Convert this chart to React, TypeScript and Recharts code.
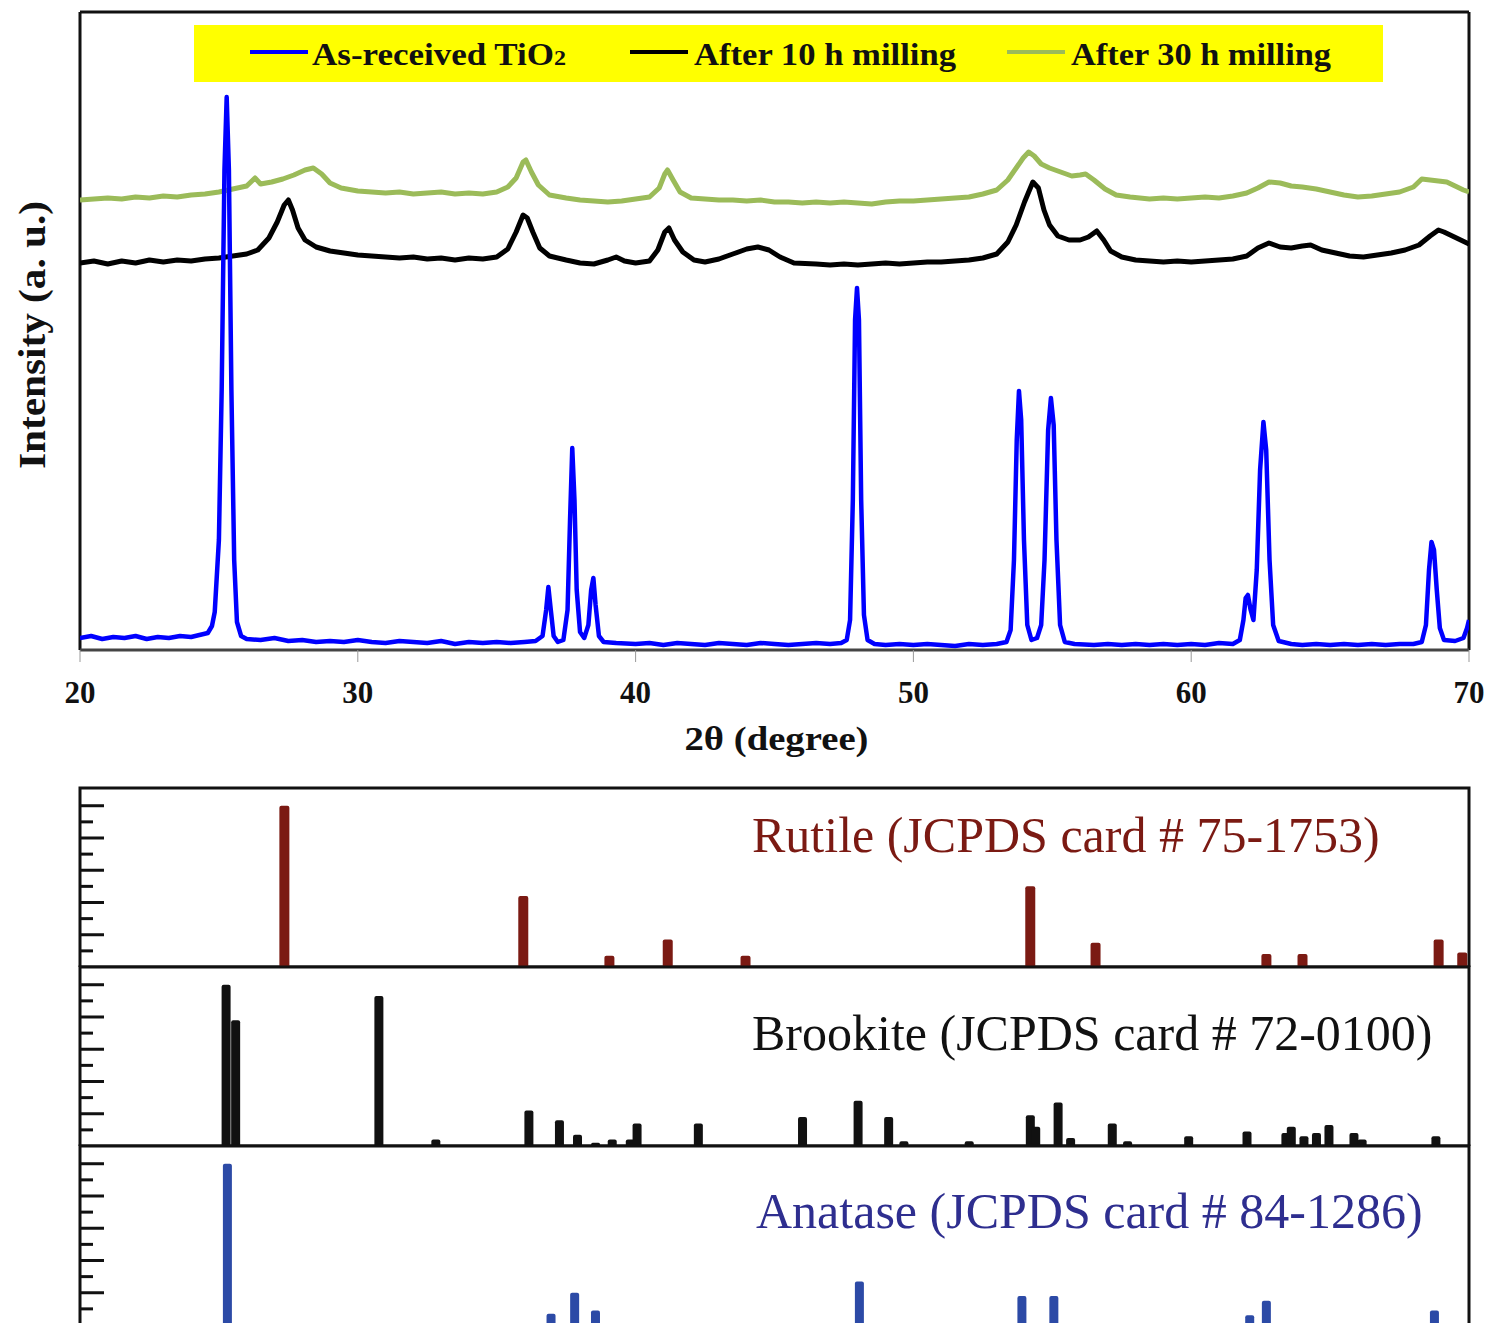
import {
  LineChart,
  Line,
  BarChart,
  Bar,
  XAxis,
  YAxis,
  Legend,
  ReferenceLine,
  ReferenceArea,
} from "recharts";

const SERIF = '"Times New Roman", "Liberation Serif", serif';

// XRD patterns: [2θ (deg), intensity (a.u.)]
const asReceived: [number, number][] = [
  [20.0, 12], [20.4, 14], [20.8, 11], [21.2, 13], [21.6, 12], [22.0, 14], [22.4, 11], [22.8, 13],
  [23.2, 12], [23.6, 14], [24.0, 13], [24.3, 15], [24.6, 17], [24.75, 24], [24.85, 38], [25.0, 110],
  [25.1, 260], [25.2, 480], [25.28, 553], [25.36, 480], [25.45, 260], [25.55, 90], [25.65, 28], [25.8, 14],
  [26.0, 11], [26.5, 10], [27.0, 12], [27.5, 9], [28.0, 10], [28.5, 8], [29.0, 9], [29.5, 8],
  [30.0, 10], [30.5, 8], [31.0, 7], [31.5, 9], [32.0, 8], [32.5, 7], [33.0, 9], [33.5, 6],
  [34.0, 8], [34.5, 7], [35.0, 8], [35.5, 7], [36.0, 8], [36.4, 9], [36.65, 14], [36.78, 40],
  [36.86, 63], [36.94, 42], [37.05, 14], [37.2, 8], [37.4, 10], [37.55, 40], [37.64, 130], [37.72, 202],
  [37.8, 150], [37.88, 60], [38.0, 18], [38.15, 12], [38.3, 25], [38.4, 60], [38.48, 72], [38.56, 45],
  [38.68, 14], [38.85, 8], [39.3, 7], [40.0, 6], [40.5, 7], [41.0, 5], [41.5, 7], [42.0, 6],
  [42.5, 5], [43.0, 7], [43.5, 6], [44.0, 5], [44.5, 7], [45.0, 6], [45.5, 5], [46.0, 6],
  [46.5, 7], [47.0, 6], [47.4, 7], [47.6, 10], [47.72, 30], [47.82, 150], [47.9, 330], [47.97, 362],
  [48.04, 330], [48.12, 150], [48.22, 35], [48.35, 10], [48.6, 6], [49.0, 5], [49.5, 6], [50.0, 5],
  [50.5, 6], [51.0, 5], [51.5, 4], [52.0, 6], [52.5, 5], [53.0, 6], [53.35, 8], [53.5, 20],
  [53.62, 90], [53.72, 210], [53.8, 259], [53.88, 230], [53.98, 110], [54.1, 25], [54.25, 10], [54.45, 12],
  [54.6, 25], [54.72, 90], [54.85, 220], [54.95, 252], [55.05, 225], [55.15, 110], [55.28, 25], [55.45, 8],
  [55.8, 6], [56.5, 5], [57.0, 6], [57.5, 5], [58.0, 6], [58.5, 5], [59.0, 6], [59.5, 5],
  [60.0, 6], [60.5, 5], [61.0, 7], [61.5, 6], [61.75, 10], [61.88, 30], [61.96, 52], [62.04, 55],
  [62.14, 40], [62.24, 30], [62.36, 80], [62.48, 180], [62.6, 228], [62.7, 200], [62.82, 90], [62.95, 25],
  [63.15, 9], [63.6, 6], [64.0, 5], [64.5, 6], [65.0, 5], [65.5, 6], [66.0, 5], [66.5, 6],
  [67.0, 5], [67.5, 6], [68.0, 6], [68.3, 8], [68.45, 25], [68.56, 80], [68.65, 108], [68.74, 100],
  [68.84, 60], [68.95, 22], [69.1, 10], [69.5, 9], [69.8, 12], [69.93, 22], [70.0, 30],
];

const milled10h: [number, number][] = [
  [20.0, 387], [20.5, 389], [21.0, 386], [21.5, 389], [22.0, 387], [22.5, 390], [23.0, 388], [23.5, 390],
  [24.0, 389], [24.5, 391], [25.0, 392], [25.5, 394], [26.0, 396], [26.4, 400], [26.8, 412], [27.1, 428],
  [27.35, 445], [27.5, 450], [27.65, 440], [27.85, 422], [28.1, 410], [28.5, 403], [29.0, 399], [29.5, 397],
  [30.0, 395], [30.5, 394], [31.0, 393], [31.5, 392], [32.0, 393], [32.5, 391], [33.0, 392], [33.5, 390],
  [34.0, 392], [34.5, 391], [35.0, 393], [35.4, 401], [35.7, 418], [35.95, 435], [36.1, 432], [36.3, 418],
  [36.55, 402], [36.9, 394], [37.5, 390], [38.0, 387], [38.5, 386], [39.0, 390], [39.3, 393], [39.6, 389],
  [40.0, 387], [40.5, 389], [40.8, 400], [41.05, 418], [41.2, 422], [41.4, 410], [41.7, 398], [42.1, 390],
  [42.5, 388], [43.0, 391], [43.5, 396], [44.0, 401], [44.4, 403], [44.8, 400], [45.2, 393], [45.7, 387],
  [46.5, 386], [47.0, 385], [47.5, 386], [48.0, 385], [48.5, 386], [49.0, 387], [49.5, 386], [50.0, 387],
  [50.5, 388], [51.0, 388], [51.5, 389], [52.0, 390], [52.5, 392], [53.0, 396], [53.4, 408], [53.7, 425],
  [54.0, 448], [54.3, 468], [54.5, 462], [54.7, 440], [54.9, 425], [55.2, 414], [55.6, 410], [56.0, 410],
  [56.3, 413], [56.6, 419], [56.85, 410], [57.1, 399], [57.5, 393], [58.0, 390], [58.5, 389], [59.0, 388],
  [59.5, 389], [60.0, 388], [60.5, 389], [61.0, 390], [61.5, 391], [62.0, 394], [62.4, 402], [62.8, 407],
  [63.2, 403], [63.6, 402], [64.0, 404], [64.3, 405], [64.7, 400], [65.2, 397], [65.7, 394], [66.2, 393],
  [66.7, 395], [67.2, 397], [67.7, 400], [68.2, 405], [68.6, 414], [68.9, 420], [69.1, 418], [69.4, 414],
  [69.7, 410], [70.0, 406],
];

const milled30h: [number, number][] = [
  [20.0, 450], [20.5, 451], [21.0, 452], [21.5, 451], [22.0, 453], [22.5, 452], [23.0, 454], [23.5, 453],
  [24.0, 455], [24.5, 456], [25.0, 458], [25.5, 461], [26.0, 464], [26.3, 472], [26.5, 466], [26.9, 468],
  [27.3, 471], [27.7, 475], [28.1, 480], [28.4, 482], [28.7, 476], [29.0, 467], [29.4, 462], [30.0, 459],
  [30.5, 458], [31.0, 457], [31.5, 458], [32.0, 456], [32.5, 457], [33.0, 458], [33.5, 456], [34.0, 457],
  [34.5, 456], [35.0, 458], [35.4, 463], [35.7, 472], [35.95, 488], [36.05, 490], [36.25, 478], [36.5, 465],
  [36.9, 455], [37.5, 452], [38.0, 450], [38.5, 449], [39.0, 448], [39.5, 449], [40.0, 451], [40.5, 453],
  [40.85, 462], [41.05, 476], [41.15, 480], [41.35, 470], [41.6, 458], [42.0, 452], [42.5, 451], [43.0, 450],
  [43.5, 450], [44.0, 449], [44.5, 450], [45.0, 448], [45.5, 448], [46.0, 447], [46.5, 448], [47.0, 447],
  [47.5, 448], [48.0, 447], [48.5, 446], [49.0, 448], [49.5, 449], [50.0, 449], [50.5, 450], [51.0, 451],
  [51.5, 452], [52.0, 453], [52.5, 456], [53.0, 460], [53.4, 470], [53.7, 482], [53.95, 492], [54.15, 498],
  [54.35, 494], [54.6, 486], [54.9, 482], [55.3, 478], [55.7, 474], [56.0, 475], [56.2, 476], [56.5, 470],
  [56.9, 461], [57.3, 455], [57.8, 453], [58.5, 451], [59.0, 452], [59.5, 451], [60.0, 452], [60.5, 453],
  [61.0, 452], [61.5, 454], [62.0, 457], [62.4, 462], [62.8, 468], [63.2, 467], [63.6, 464], [64.0, 463],
  [64.5, 461], [65.0, 458], [65.5, 455], [66.0, 453], [66.5, 454], [67.0, 456], [67.5, 458], [68.0, 463],
  [68.3, 471], [68.6, 470], [68.9, 469], [69.2, 468], [69.5, 464], [69.8, 460], [70.0, 458],
];

// JCPDS reference lines: [2θ (deg), relative intensity (%)]
const rutileLines: [number, number][] = [
  [27.35, 100], [35.95, 44], [39.05, 7], [41.15, 17], [43.95, 7], [54.2, 50],
  [56.55, 15], [62.7, 8], [64.0, 8], [68.9, 17], [69.75, 9],
];

const brookiteLines: [number, number][] = [
  [25.25, 100], [30.75, 93], [32.8, 4], [36.15, 22], [37.25, 16], [37.9, 7], [38.55, 2],
  [39.15, 4], [39.8, 4], [42.25, 14], [46.0, 18], [48.0, 28], [49.1, 18], [49.65, 3],
  [52.0, 3], [54.2, 19], [55.2, 27], [55.65, 5], [57.15, 14], [57.7, 3], [59.9, 6],
  [62.0, 9], [63.4, 8], [64.05, 6], [64.5, 8], [64.95, 13], [65.85, 8], [68.8, 6],
];
// brookite lines that sit closer than one bar width to a neighbour
const brookiteCloseLines: [number, number][] = [
  [25.6, 78], [40.05, 14], [54.4, 12], [63.6, 12], [66.15, 4],
];

const anataseLines: [number, number][] = [
  [25.3, 100], [36.95, 7], [37.8, 20], [38.55, 9], [48.05, 27], [53.9, 18],
  [55.05, 18], [62.1, 6], [62.7, 15], [68.75, 9],
];

const X_TICKS = [20, 30, 40, 50, 60, 70];
const PANEL_TICKS = [10, 20, 30, 40, 50, 60, 70, 80, 90, 100];

const BLUE = "#0000ff";
const BLACK = "#000000";
const GREEN = "#9bbb59";

const toPoints = (arr: [number, number][]) => arr.map(([x, y]) => ({ x, y }));

function renderLegend() {
  const textStyle = { fontFamily: SERIF, fontWeight: 700, fontSize: 32, fill: "#111" };
  return (
    <svg width={1189} height={57} style={{ display: "block" }}>
      <rect width={1189} height={57} fill="#ffff00" />
      <line x1={56} x2={114} y1={27} y2={27} stroke={BLUE} strokeWidth={4} />
      <text x={118} y={40} textLength={254} lengthAdjust="spacingAndGlyphs" {...textStyle}>
        As-received TiO<tspan fontSize={22}>2</tspan>
      </text>
      <line x1={436} x2={494} y1={27} y2={27} stroke={BLACK} strokeWidth={4} />
      <text x={500} y={40} textLength={262} lengthAdjust="spacingAndGlyphs" {...textStyle}>
        After 10 h milling
      </text>
      <line x1={813} x2={871} y1={27} y2={27} stroke={GREEN} strokeWidth={4} />
      <text x={877} y={40} textLength={260} lengthAdjust="spacingAndGlyphs" {...textStyle}>
        After 30 h milling
      </text>
    </svg>
  );
}

function renderXTitle(props: any) {
  const { x, y, width } = props.viewBox;
  return (
    <text
      x={x + width / 2 + 2}
      y={y + 100}
      textAnchor="middle"
      textLength={184}
      lengthAdjust="spacingAndGlyphs"
      fontFamily={SERIF}
      fontWeight={700}
      fontSize={34}
      fill="#111"
    >
      2θ (degree)
    </text>
  );
}

function renderYTitle(props: any) {
  const { y, height } = props.viewBox;
  const cy = y + height / 2 + 4;
  return (
    <text
      x={45}
      y={cy}
      transform={`rotate(-90, 45, ${cy})`}
      textAnchor="middle"
      textLength={268}
      lengthAdjust="spacingAndGlyphs"
      fontFamily={SERIF}
      fontWeight={700}
      fontSize={38}
      fill="#111"
    >
      Intensity (a. u.)
    </text>
  );
}

function PanelTick(props: any) {
  const { x, y, payload } = props;
  const len = payload.value % 20 === 0 ? 24 : 13;
  return <line x1={x} x2={x + len} y1={y} y2={y} stroke="#111" strokeWidth={3} />;
}

const PANEL_W = 1494;
const PANEL_H = 181;
const panelMargin = { top: 2, right: 25, left: 50, bottom: 0 };

interface StickPanelProps {
  top: number;
  lines: [number, number][];
  color: string;
  barSize: number;
  title?: string;
  titleColor?: string;
  titleX?: number;
  titleY?: number;
  overlay?: boolean;
}

function StickPanel({ top, lines, color, barSize, title, titleColor, titleX = 672, titleY = 64, overlay }: StickPanelProps) {
  const renderTitle = (props: any) => {
    const { x, y } = props.viewBox;
    return (
      <text x={x + titleX} y={y + titleY} fontFamily={SERIF} fontSize={50} fill={titleColor}>
        {title}
      </text>
    );
  };

  return (
    <div style={{ position: "absolute", left: 0, top }}>
      <BarChart width={PANEL_W} height={PANEL_H} data={toPoints(lines)} margin={panelMargin}>
        <XAxis type="number" dataKey="x" domain={[20, 70]} hide allowDataOverflow />
        <YAxis
          type="number"
          domain={[0, 111]}
          ticks={PANEL_TICKS}
          interval={0}
          width={30}
          tickSize={0}
          tickMargin={0}
          axisLine={false}
          tickLine={false}
          tick={overlay ? false : <PanelTick />}
        />
        {!overlay && (
          <ReferenceArea
            x1={20}
            x2={70}
            y1={0}
            y2={111}
            fill="none"
            fillOpacity={0}
            stroke="#111"
            strokeWidth={3}
            label={renderTitle}
          />
        )}
        <Bar dataKey="y" fill={color} barSize={barSize} radius={[2, 2, 0, 0]} isAnimationActive={false} />
      </BarChart>
    </div>
  );
}

export default function App() {
  return (
    <div
      style={{
        position: "absolute",
        left: 0,
        top: 0,
        width: 1494,
        height: 1323,
        overflow: "hidden",
        background: "#fff",
      }}
    >
      <div style={{ position: "absolute", left: 0, top: 0 }}>
        <LineChart width={1494} height={780} margin={{ top: 12, right: 25, left: 50, bottom: 70 }}>
          <XAxis
            type="number"
            dataKey="x"
            domain={[20, 70]}
            ticks={X_TICKS}
            allowDataOverflow
            height={60}
            tickSize={12}
            tickMargin={19}
            axisLine={{ stroke: "#444", strokeWidth: 3 }}
            tickLine={{ stroke: "#999", strokeWidth: 1 }}
            tick={{ fontFamily: SERIF, fontWeight: 700, fontSize: 31, fill: "#111" }}
            label={renderXTitle}
          />
          <YAxis
            type="number"
            domain={[0, 638]}
            width={30}
            tick={false}
            axisLine={false}
            tickLine={false}
            label={renderYTitle}
          />
          <ReferenceLine x={20} stroke="#111" strokeWidth={3} />
          <ReferenceLine x={70} stroke="#111" strokeWidth={3} />
          <ReferenceLine y={638} stroke="#111" strokeWidth={3} />
          <Legend
            layout="horizontal"
            verticalAlign="middle"
            align="center"
            content={renderLegend}
            wrapperStyle={{ left: 194, top: 25, width: 1189, height: 57 }}
          />
          <Line
            data={toPoints(milled30h)}
            dataKey="y"
            name="After 30 h milling"
            type="linear"
            stroke={GREEN}
            strokeWidth={5}
            strokeLinejoin="round"
            dot={false}
            isAnimationActive={false}
          />
          <Line
            data={toPoints(milled10h)}
            dataKey="y"
            name="After 10 h milling"
            type="linear"
            stroke={BLACK}
            strokeWidth={5}
            strokeLinejoin="round"
            dot={false}
            isAnimationActive={false}
          />
          <Line
            data={toPoints(asReceived)}
            dataKey="y"
            name="As-received TiO2"
            type="linear"
            stroke={BLUE}
            strokeWidth={4.5}
            strokeLinejoin="round"
            dot={false}
            isAnimationActive={false}
          />
        </LineChart>
      </div>

      <StickPanel
        top={786}
        lines={rutileLines}
        color="#7b1a13"
        barSize={10}
        title="Rutile (JCPDS card # 75-1753)"
        titleColor="#7b1a13"
        titleY={64}
      />
      <StickPanel
        top={965}
        lines={brookiteLines}
        color="#111111"
        barSize={9}
        title="Brookite (JCPDS card # 72-0100)"
        titleColor="#111111"
        titleY={83}
      />
      <StickPanel top={965} lines={brookiteCloseLines} color="#111111" barSize={9} overlay />
      <StickPanel
        top={1144}
        lines={anataseLines}
        color="#2c4aa6"
        barSize={9}
        title="Anatase (JCPDS card # 84-1286)"
        titleColor="#2e2e8f"
        titleX={676}
        titleY={82}
      />
    </div>
  );
}
